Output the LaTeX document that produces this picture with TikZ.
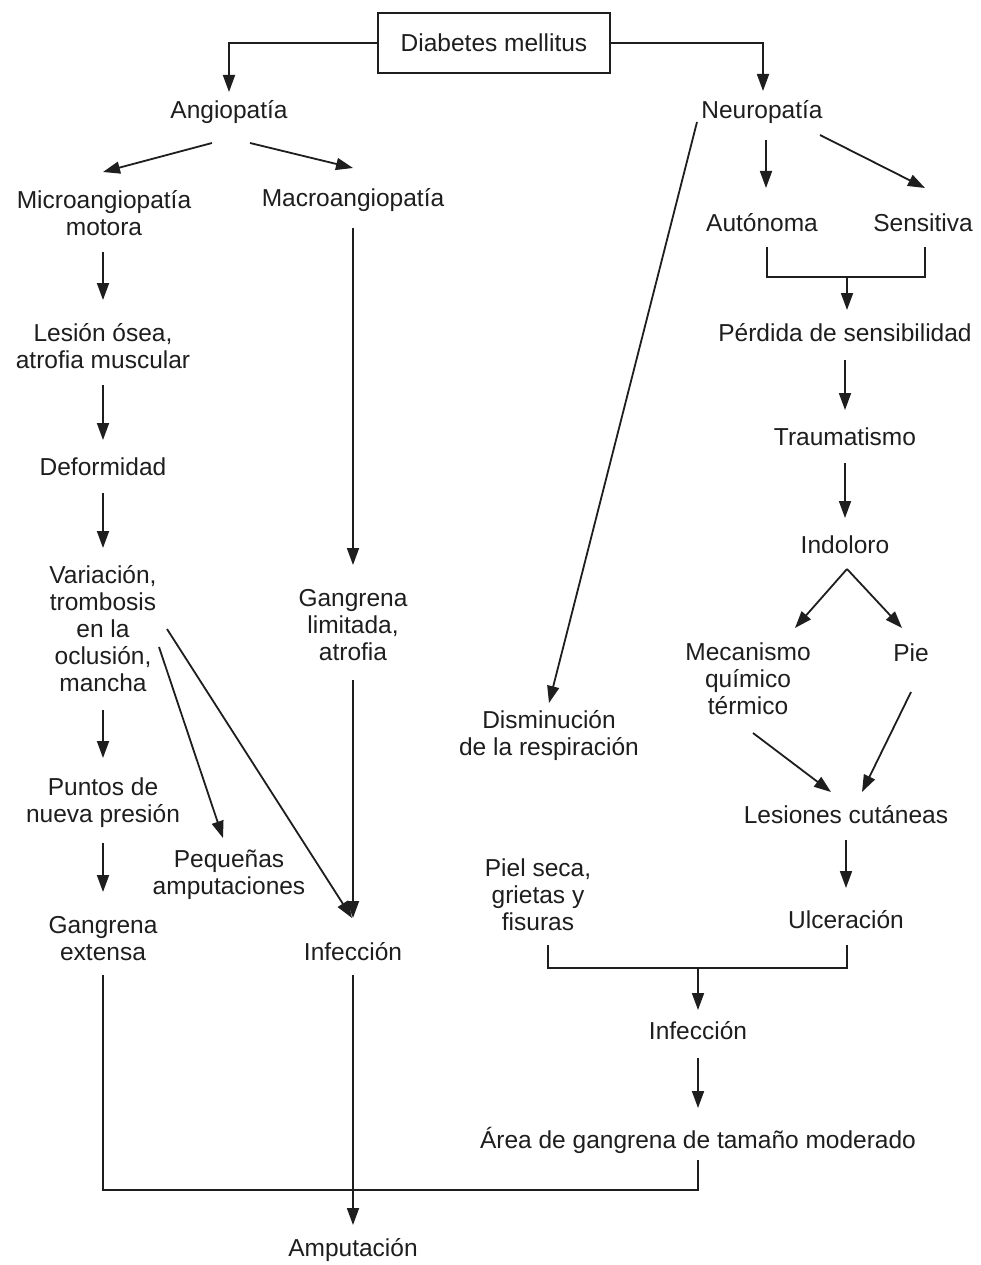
\documentclass[tikz,border=0pt]{standalone}
\usepackage{fontspec}
\setmainfont{Liberation Sans}
\usetikzlibrary{arrows.meta,calc}
\definecolor{ink}{HTML}{1E1E1E}
\begin{document}
\begin{tikzpicture}[x=1pt,y=-1pt,
  lbl/.style={align=center, font=\fontsize{24.5}{27}\selectfont, inner sep=0pt, text=ink},
  arr/.style={draw=ink, line width=1.8pt, -{Triangle[length=17pt,width=12pt]}},
  ln/.style={draw=ink, line width=1.8pt}]
\useasboundingbox[fill=white] (0,0) rectangle (980,1265);
% nodes
\node[lbl, draw=ink, line width=1.8pt, minimum width=232pt, minimum height=60pt] (dm) at (494,43) {Diabetes mellitus};
\node[lbl] (angio) at (229,112) {Angiopatía};
\node[lbl] (neuro) at (762,112) {Neuropatía};
\node[lbl] (micro) at (104,213) {Microangiopatía\\motora};
\node[lbl] (macro) at (353,200) {Macroangiopatía};
\node[lbl] (lesion) at (103,346) {Lesión ósea,\\atrofia muscular};
\node[lbl] (deform) at (103,467) {Deformidad};
\node[lbl] (variac) at (103,629) {Variación,\\trombosis\\en la\\oclusión,\\mancha};
\node[lbl] (puntos) at (103,803) {Puntos de\\nueva presión};
\node[lbl] (gangext) at (103,939) {Gangrena\\extensa};
\node[lbl] (pequen) at (229,875) {Pequeñas\\amputaciones};
\node[lbl] (gangl) at (353,625) {Gangrena\\limitada,\\atrofia};
\node[lbl] (infL) at (353,952) {Infección};
\node[lbl] (amput) at (353,1250) {Amputación};
\node[lbl] (auto) at (762,223) {Autónoma};
\node[lbl] (sens) at (923,223) {Sensitiva};
\node[lbl] (perdida) at (845,333) {Pérdida de sensibilidad};
\node[lbl] (trauma) at (845,437) {Traumatismo};
\node[lbl] (indol) at (845,545) {Indoloro};
\node[lbl] (mecan) at (748,679) {Mecanismo\\químico\\térmico};
\node[lbl] (pie) at (911,653) {Pie};
\node[lbl] (disminu) at (549,736) {Disminución\\de la respiración};
\node[lbl] (lesionc) at (846,815) {Lesiones cutáneas};
\node[lbl] (ulcer) at (846,920) {Ulceración};
\node[lbl] (piel) at (538,895) {Piel seca,\\grietas y\\fisuras};
\node[lbl] (infR) at (698,1031) {Infección};
\node[lbl] (area) at (698,1140) {Área de gangrena de tamaño moderado};
% connectors
\draw[arr] (dm.west) -| ($(angio)+(0,-20)$);
\draw[arr] (dm.east) -| ($(neuro)+(1,-21)$);
\draw[arr] ($(angio)+(-17,31)$) -- ($(micro)+(-1,-41)$);
\draw[arr] ($(angio)+(21,31)$) -- ($(macro)+(0,-32)$);
\draw[arr] ($(micro)+(-1,39)$) -- ($(lesion)+(0,-46)$);
\draw[arr] ($(lesion)+(0,39)$) -- ($(deform)+(0,-27)$);
\draw[arr] ($(deform)+(0,26)$) -- ($(variac)+(0,-81)$);
\draw[arr] ($(variac)+(0,81)$) -- ($(puntos)+(0,-45)$);
\draw[arr] ($(puntos)+(0,40)$) -- ($(gangext)+(0,-47)$);
\draw[arr] ($(variac)+(56,18)$) -- ($(pequen)+(-6,-37)$);
\draw[arr] ($(variac)+(64,0)$) -- ($(infL)+(-1,-34)$);
\draw[arr] ($(macro)+(0,28)$) -- ($(gangl)+(0,-60)$);
\draw[arr] ($(gangl)+(0,55)$) -- ($(infL)+(0,-34)$);
\draw[arr] ($(infL)+(0,23)$) -- ($(amput)+(0,-25)$);
\draw[ln] ($(gangext)+(0,36)$) |- ($(area)+(0,50)$) -- ($(area)+(0,20)$);
\draw[arr] ($(neuro)+(4,28)$) -- ($(auto)+(4,-35)$);
\draw[arr] ($(neuro)+(58,23)$) -- ($(sens)+(2,-35)$);
\draw[ln] ($(auto)+(5,24)$) |- ($(sens)+(2,54)$) -- ($(sens)+(2,24)$);
\draw[arr] ($(perdida)+(2,-56)$) -- ($(perdida)+(2,-23)$);
\draw[arr] ($(perdida)+(0,27)$) -- ($(trauma)+(0,-27)$);
\draw[arr] ($(trauma)+(0,26)$) -- ($(indol)+(0,-27)$);
\draw[arr] ($(indol)+(2,24)$) -- ($(mecan)+(47,-51)$);
\draw[arr] ($(indol)+(2,24)$) -- ($(pie)+(-9,-25)$);
\draw[arr] ($(neuro)+(-65,10)$) -- ($(disminu)+(0,-33)$);
\draw[arr] ($(mecan)+(5,54)$) -- ($(lesionc)+(-15,-23)$);
\draw[arr] ($(pie)+(0,39)$) -- ($(lesionc)+(16,-23)$);
\draw[arr] ($(lesionc)+(0,25)$) -- ($(ulcer)+(0,-32)$);
\draw[ln] ($(piel)+(10,50)$) |- ($(ulcer)+(1,48)$) -- ($(ulcer)+(1,25)$);
\draw[arr] ($(infR)+(0,-63)$) -- ($(infR)+(0,-21)$);
\draw[arr] ($(infR)+(0,27)$) -- ($(area)+(0,-32)$);
\end{tikzpicture}
\end{document}
